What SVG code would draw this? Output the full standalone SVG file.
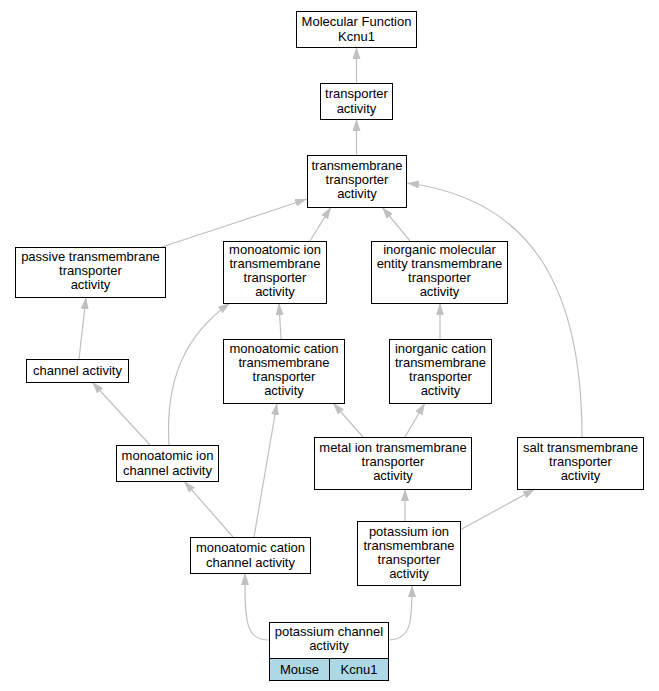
<svg xmlns="http://www.w3.org/2000/svg" width="659" height="691" viewBox="0 0 659 691">
<defs>
<style>
.n rect{fill:#fff;stroke:#000;stroke-width:1}
.n text{font-family:"Liberation Sans",Arial,sans-serif;font-size:13px;text-anchor:middle;fill:#000}
.e path{fill:none;stroke:#c0c0c0;stroke-width:1.2;marker-end:url(#ah)}
</style>
<marker id="ah" viewBox="0 0 12 8" refX="12" refY="4" markerWidth="12" markerHeight="8" markerUnits="userSpaceOnUse" orient="auto">
<path d="M0,0 L12,4 L0,8 z" fill="#c0c0c0"/>
</marker>
</defs>
<rect width="659" height="691" fill="#fff"/>
<g id="edges" class="e">
<path d="M356.5,83 L356.5,47"/>
<path d="M356.5,155 L356.5,119"/>
<path d="M162,247 L307,199"/>
<path d="M310,241 L331,207"/>
<path d="M410,241 L382,207"/>
<path d="M582,437 C582,300 540,200 407,183"/>
<path d="M79,359 L86,297"/>
<path d="M281,339 L279,303"/>
<path d="M440,339 L440,303"/>
<path d="M150,445 L92,382"/>
<path d="M169,445 C165,380 185,335 230,303"/>
<path d="M363,437 L333,403"/>
<path d="M405,437 L425,403"/>
<path d="M233,537 L184,481"/>
<path d="M254,537 L277,403"/>
<path d="M405,521 L405,489"/>
<path d="M460,530 L535,489"/>
<path d="M269,640 C245,640 245,620 245,573"/>
<path d="M388,640 C412,640 412,620 412,585"/>
</g>
<g id="n1" class="n"><rect x="296.5" y="11.5" width="120" height="36"/><text x="356.5" y="26">Molecular Function</text><text x="356.5" y="41">Kcnu1</text></g>
<g id="n2" class="n"><rect x="320.5" y="83.5" width="72" height="36"/><text x="356.5" y="98">transporter</text><text x="356.5" y="113">activity</text></g>
<g id="n3" class="n"><rect x="307.5" y="155.5" width="99" height="52"/><text x="357" y="170">transmembrane</text><text x="357" y="184">transporter</text><text x="357" y="198">activity</text></g>
<g id="n4" class="n"><rect x="15.5" y="247.5" width="150" height="50"/><text x="90.5" y="261">passive transmembrane</text><text x="90.5" y="275">transporter</text><text x="90.5" y="289">activity</text></g>
<g id="n5" class="n"><rect x="223.5" y="241.5" width="103" height="62"/><text x="275" y="254">monoatomic ion</text><text x="275" y="268">transmembrane</text><text x="275" y="282">transporter</text><text x="275" y="296">activity</text></g>
<g id="n6" class="n"><rect x="371.5" y="241.5" width="136" height="62"/><text x="439.5" y="254">inorganic molecular</text><text x="439.5" y="268">entity transmembrane</text><text x="439.5" y="282">transporter</text><text x="439.5" y="296">activity</text></g>
<g id="n7" class="n"><rect x="26.5" y="359.5" width="102" height="23"/><text x="77.5" y="375">channel activity</text></g>
<g id="n8" class="n"><rect x="223.5" y="339.5" width="121" height="64"/><text x="284" y="353">monoatomic cation</text><text x="284" y="367">transmembrane</text><text x="284" y="381">transporter</text><text x="284" y="395">activity</text></g>
<g id="n9" class="n"><rect x="389.5" y="339.5" width="102" height="64"/><text x="440.5" y="353">inorganic cation</text><text x="440.5" y="367">transmembrane</text><text x="440.5" y="381">transporter</text><text x="440.5" y="395">activity</text></g>
<g id="n10" class="n"><rect x="116.5" y="445.5" width="102" height="36"/><text x="167.5" y="460">monoatomic ion</text><text x="167.5" y="475">channel activity</text></g>
<g id="n11" class="n"><rect x="314.5" y="437.5" width="157" height="52"/><text x="393" y="452">metal ion transmembrane</text><text x="393" y="466">transporter</text><text x="393" y="480">activity</text></g>
<g id="n12" class="n"><rect x="517.5" y="437.5" width="126" height="52"/><text x="580.5" y="452">salt transmembrane</text><text x="580.5" y="466">transporter</text><text x="580.5" y="480">activity</text></g>
<g id="n13" class="n"><rect x="190.5" y="537.5" width="120" height="36"/><text x="250.5" y="552">monoatomic cation</text><text x="250.5" y="567">channel activity</text></g>
<g id="n14" class="n"><rect x="357.5" y="521.5" width="103" height="64"/><text x="409" y="536">potassium ion</text><text x="409" y="550">transmembrane</text><text x="409" y="564">transporter</text><text x="409" y="578">activity</text></g>
<g id="n15" class="n"><rect x="269.5" y="622.5" width="119" height="58"/><rect x="269.5" y="658.5" width="60" height="22" style="fill:#add8e6"/><rect x="329.5" y="658.5" width="59" height="22" style="fill:#add8e6"/><text x="329" y="636">potassium channel</text><text x="329" y="650">activity</text><text x="299.5" y="674">Mouse</text><text x="359" y="674">Kcnu1</text></g>
</svg>
